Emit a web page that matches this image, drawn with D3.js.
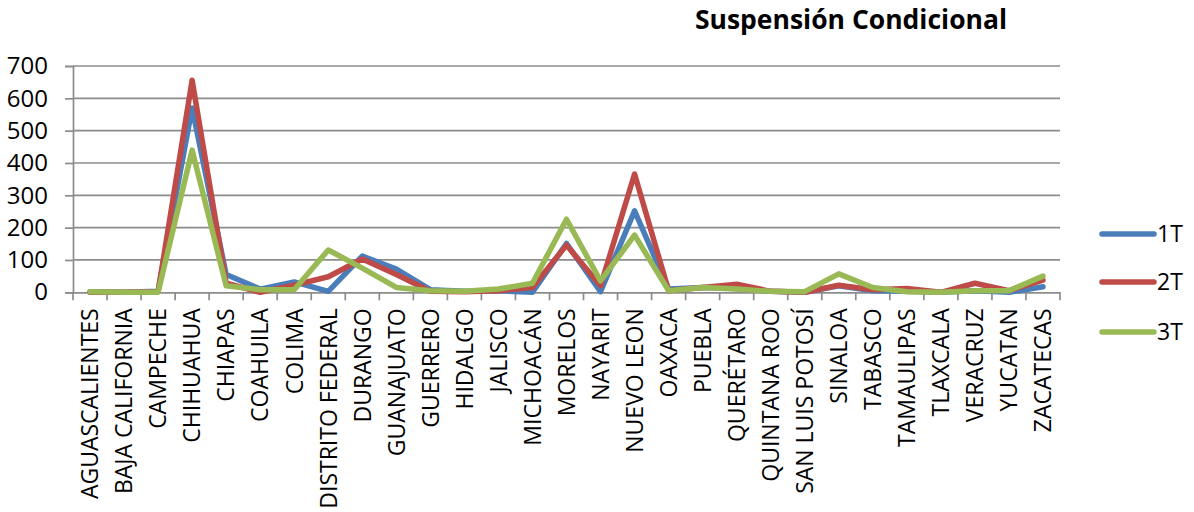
<!DOCTYPE html>
<html><head><meta charset="utf-8">
<script src="https://cdn.jsdelivr.net/npm/d3@7"></script>
<style>
html,body{margin:0;padding:0;background:#fff;}
svg{display:block;font-family:"Open Sans","Noto Sans",sans-serif;}
</style></head>
<body>
<svg id="chart" width="1194" height="512"></svg>
<script>
const categories = ["AGUASCALIENTES","BAJA CALIFORNIA","CAMPECHE","CHIHUAHUA","CHIAPAS","COAHUILA","COLIMA","DISTRITO FEDERAL","DURANGO","GUANAJUATO","GUERRERO","HIDALGO","JALISCO","MICHOACÁN","MORELOS","NAYARIT","NUEVO LEON","OAXACA","PUEBLA","QUERÉTARO","QUINTANA ROO","SAN LUIS POTOSÍ","SINALOA","TABASCO","TAMAULIPAS","TLAXCALA","VERACRUZ","YUCATAN","ZACATECAS"];
const t1 = [2,0,3,570,55,10,32,3,112,72,8,3,5,0,151,2,252,10,15,12,3,0,20,5,3,0,5,0,17];
const t2 = [0,0,2,656,28,0,22,48,103,55,3,2,5,15,146,20,366,5,15,25,3,0,22,8,12,0,28,5,38];
const t3 = [2,0,0,440,20,8,8,131,75,15,5,3,10,28,226,35,177,5,15,10,3,2,57,15,2,0,5,5,50];
const seriesNames = ["1T","2T","3T"];
const colors = ["#4A7EBB","#BE4B48","#98B954"];
const yTicks = [0,100,200,300,400,500,600,700];
const title = "Suspensión Condicional";

const svg = d3.select("#chart");
const m = {left:73, right:1060, top:66, bottom:292.3};
const x = d3.scaleBand().domain(categories).range([m.left, m.right]);
const y = d3.scaleLinear().domain([0,700]).range([m.bottom, m.top]);

// gridlines
svg.append("g").selectAll("line").data(yTicks.filter(d=>d>0)).join("line")
  .attr("x1", m.left).attr("x2", m.right)
  .attr("y1", d=>y(d)).attr("y2", d=>y(d))
  .attr("stroke","#8c8c8c").attr("stroke-width",1.7);

// y axis
const yAxis = svg.append("g").attr("transform",`translate(${m.left},0)`)
  .call(d3.axisLeft(y).tickValues(yTicks).tickSize(8).tickPadding(17));
yAxis.select(".domain").attr("stroke","#8c8c8c").attr("stroke-width",1.7);
yAxis.selectAll(".tick line").attr("stroke","#8c8c8c").attr("stroke-width",1.7);
yAxis.selectAll("text").attr("font-size",24).attr("fill","#000")
  .attr("font-family",'"Open Sans",sans-serif');

// x axis
const xAxis = svg.append("g").attr("transform",`translate(0,${m.bottom})`)
  .call(d3.axisBottom(x).tickSize(0).tickFormat(d=>d));
xAxis.select(".domain").attr("stroke","#8c8c8c").attr("stroke-width",1.7);
xAxis.selectAll("text")
  .attr("font-size",23).attr("fill","#000")
  .attr("font-family",'"Open Sans",sans-serif')
  .attr("text-anchor","end")
  .attr("transform","rotate(-90)")
  .attr("x",-16).attr("y",0).attr("dy","0.36em");
// category boundary ticks
const bounds = categories.map((c)=>x(c)).concat([m.right]);
svg.append("g").selectAll("line").data(bounds).join("line")
  .attr("x1",d=>d).attr("x2",d=>d)
  .attr("y1",m.bottom).attr("y2",m.bottom+8)
  .attr("stroke","#8c8c8c").attr("stroke-width",1.7);

// lines
const data = [t1,t2,t3];
const line = d3.line().x((d,i)=>x(categories[i])+x.bandwidth()/2).y(d=>y(d));
data.forEach((s,k)=>{
  svg.append("path").datum(s).attr("d",line)
    .attr("fill","none").attr("stroke",colors[k]).attr("stroke-width",5.5)
    .attr("stroke-linejoin","round").attr("stroke-linecap","round");
});

// legend
const legY = [234,282,332];
seriesNames.forEach((n,k)=>{
  svg.append("line").attr("x1",1102).attr("x2",1154).attr("y1",legY[k]).attr("y2",legY[k])
    .attr("stroke",colors[k]).attr("stroke-width",5.5).attr("stroke-linecap","round");
  svg.append("text").attr("x",1157).attr("y",legY[k]).attr("dy","0.36em")
    .attr("font-size",23).attr("fill","#000").text(n);
});

// title
svg.append("text").attr("x",851).attr("y",29).attr("text-anchor","middle")
  .attr("font-size",26.5).attr("font-weight","bold").attr("fill","#000").text(title);
</script>
</body></html>
